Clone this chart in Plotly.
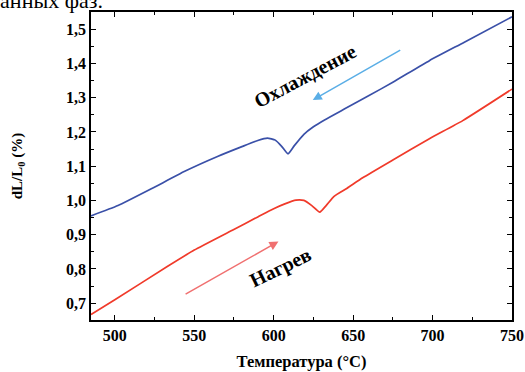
import plotly.graph_objects as go

# Cooling curve (Охлаждение)
cool_T = [485, 502, 523, 544, 565, 580, 590, 596, 601, 605, 609, 613, 619, 625, 632, 645, 660, 675, 698, 720, 750]
cool_V = [0.955, 0.985, 1.034, 1.085, 1.129, 1.157, 1.175, 1.182, 1.176, 1.158, 1.136, 1.160, 1.193, 1.215, 1.235,
          1.268, 1.306, 1.345, 1.408, 1.462, 1.536]

# Heating curve (Нагрев)
heat_T = [485, 500, 533, 550, 574, 590, 600, 607, 614, 619, 624, 629, 633, 638, 646, 656, 675, 698, 719, 750]
heat_V = [0.667, 0.71, 0.807, 0.855, 0.913, 0.952, 0.976, 0.990, 1.001, 1.000, 0.985, 0.966, 0.985, 1.012,
          1.035, 1.066, 1.118, 1.180, 1.233, 1.325]

x_ticks = [500, 550, 600, 650, 700, 750]
y_ticks = [0.7, 0.8, 0.9, 1.0, 1.1, 1.2, 1.3, 1.4, 1.5]

FONT = "Liberation Serif"

fig = go.Figure()
fig.add_trace(go.Scatter(x=cool_T, y=cool_V, mode="lines",
                         line=dict(color="#3a50a8", width=1.7, shape="spline", smoothing=0.5),
                         showlegend=False))
fig.add_trace(go.Scatter(x=heat_T, y=heat_V, mode="lines",
                         line=dict(color="#f03a2a", width=1.7, shape="spline", smoothing=0.5),
                         showlegend=False))

axis_common = dict(showline=True, linecolor="black", linewidth=1.5, mirror="allticks", ticks="inside",
                   ticklen=5, tickwidth=1.3, tickcolor="black", showgrid=False, zeroline=False,
                   automargin=False,
                   tickfont=dict(family=FONT, size=16, color="black", weight="bold"))

fig.update_xaxes(range=[485, 750], tickvals=x_ticks,
                 minor=dict(dtick=25, tick0=500, ticks="inside", ticklen=3, tickwidth=1.3, tickcolor="black"),
                 title=dict(text="Температура (°C)", font=dict(family=FONT, size=16.5, color="black", weight="bold"),
                            standoff=12),
                 **axis_common)
fig.update_yaxes(range=[0.651, 1.55], tickvals=y_ticks, tickformat=".1f",
                 minor=dict(dtick=0.05, tick0=0.7, ticks="inside", ticklen=3, tickwidth=1.3, tickcolor="black"),
                 title=dict(text="dL/L<sub>0</sub> (%)", font=dict(family=FONT, size=15, color="black", weight="bold"),
                            standoff=40),
                 **axis_common)

# Arrows
fig.add_annotation(x=624.6, y=1.293, ax=680.6, ay=1.441, xref="x", yref="y", axref="x", ayref="y",
                   text="", showarrow=True, arrowhead=2, arrowsize=1.2, arrowwidth=1.5, arrowcolor="#5aaee6")
fig.add_annotation(x=603, y=0.880, ax=543.6, ay=0.724, xref="x", yref="y", axref="x", ayref="y",
                   text="", showarrow=True, arrowhead=2, arrowsize=1.2, arrowwidth=1.5, arrowcolor="#f07070")

# Labels
fig.add_annotation(x=619.8, y=1.363, xref="x", yref="y", text="Охлаждение", showarrow=False, textangle=-28,
                   font=dict(family=FONT, size=20, color="black", weight="bold"))
fig.add_annotation(x=604.6, y=0.803, xref="x", yref="y", text="Нагрев", showarrow=False, textangle=-26,
                   font=dict(family=FONT, size=20, color="black", weight="bold"))

# Cropped document text at the top
fig.add_annotation(x=(105 - 91) / (512 - 91), y=1 + 12 / 308, xref="paper", yref="paper", text="ованных фаз.",
                   showarrow=False, xanchor="right", yanchor="middle",
                   font=dict(family=FONT, size=22, color="black"))

fig.update_layout(width=525, height=372, margin=dict(l=91, r=13, t=12, b=52),
                  paper_bgcolor="white", plot_bgcolor="white", separators=", ")

fig.write_html("out.html")
